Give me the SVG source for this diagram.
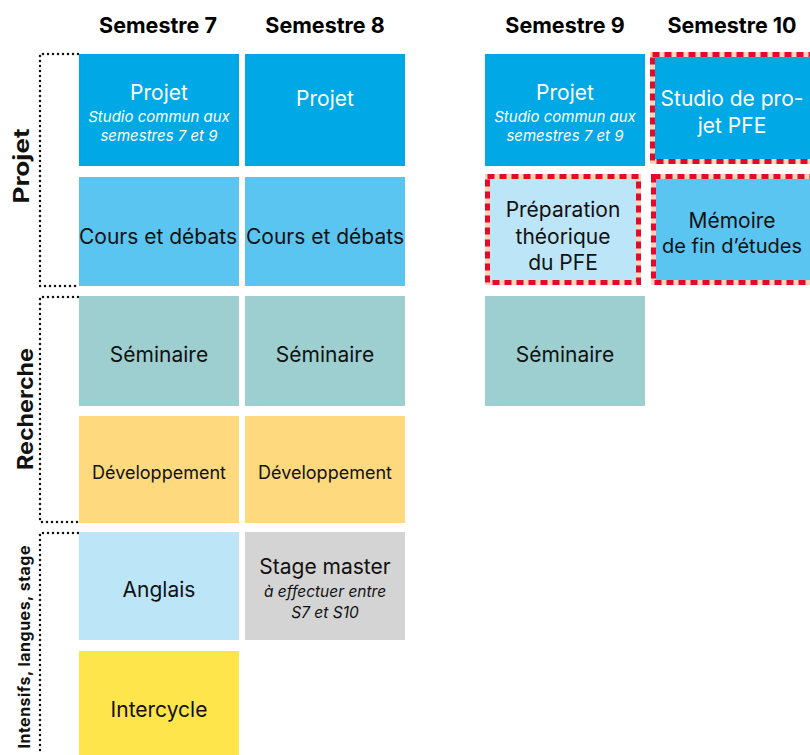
<svg xmlns="http://www.w3.org/2000/svg" width="810" height="755" viewBox="0 0 810 755">
<style>
text{font-family:Inter,"Liberation Sans",sans-serif;text-anchor:middle;dominant-baseline:central}
.h{font-weight:700;font-size:21.5px;fill:#000}
.side{font-weight:700;font-size:21px;fill:#111}
.t{font-size:21px;fill:#111}
.w{font-size:21px;fill:#fff}
.iw{font-size:15px;fill:#fff;font-style:italic}
.ib{font-size:15.5px;fill:#111;font-style:italic}
.br{fill:none;stroke:#111;stroke-width:2.5;stroke-dasharray:0 5;stroke-linecap:round}
.p{fill:#00a8e6}.c{fill:#5bc5f2}.s{fill:#9dcfd0}.d{fill:#ffd97d}.a{fill:#bde5f8}.y{fill:#ffe54c}.g{fill:#d4d4d4}
.dash1{fill:none;stroke:#fbd6bd;stroke-width:5}
.dash2{fill:none;stroke:#e30a2d;stroke-width:5;stroke-dasharray:7 5}
</style>
<g id="headers">
<text class="h" x="158" y="25">Semestre 7</text>
<text class="h" x="325" y="25">Semestre 8</text>
<text class="h" x="565" y="25">Semestre 9</text>
<text class="h" x="732" y="25">Semestre 10</text>
</g>
<g id="brackets">
<path class="br" d="M78 54 H40 V286 H78"/>
<path class="br" d="M78 297 H40 V522 H78"/>
<path class="br" d="M78 533 H40 V755"/>
<text class="side" transform="translate(21 166) rotate(-90)" textLength="75" lengthAdjust="spacingAndGlyphs">Projet</text>
<text class="side" transform="translate(25 409) rotate(-90)" textLength="122" lengthAdjust="spacingAndGlyphs">Recherche</text>
<text class="side" transform="translate(24 647) rotate(-90)" style="font-size:16px" textLength="203" lengthAdjust="spacing">Intensifs, langues, stage</text>
</g>
<g id="s7-projet"><rect class="p" x="79" y="54" width="160" height="112"/>
<text class="w" x="159" y="92">Projet</text>
<text class="iw" x="159" y="116">Studio commun aux</text>
<text class="iw" x="159" y="135">semestres 7 et 9</text></g>
<g id="s8-projet"><rect class="p" x="245" y="54" width="160" height="112"/>
<text class="w" x="325" y="98">Projet</text></g>
<g id="s9-projet"><rect class="p" x="485" y="54" width="160" height="112"/>
<text class="w" x="565" y="92">Projet</text>
<text class="iw" x="565" y="116">Studio commun aux</text>
<text class="iw" x="565" y="135">semestres 7 et 9</text></g>
<g id="s10-studio"><rect class="p" x="652.5" y="54.5" width="162" height="107"/>
<rect class="dash1" x="652.5" y="54.5" width="162" height="107"/><rect class="dash2" x="652.5" y="54.5" width="162" height="107"/>
<text class="w" x="732" y="98">Studio de pro-</text>
<text class="w" x="732" y="125">jet PFE</text></g>
<g id="s7-cours"><rect class="c" x="79" y="177" width="160" height="109"/>
<text class="t" x="158" y="236">Cours et débats</text></g>
<g id="s8-cours"><rect class="c" x="245" y="177" width="160" height="109"/>
<text class="t" x="325" y="236">Cours et débats</text></g>
<g id="s9-prep"><rect class="a" x="487.5" y="176.5" width="151" height="106"/>
<rect class="dash1" x="487.5" y="176.5" width="151" height="106"/><rect class="dash2" x="487.5" y="176.5" width="151" height="106"/>
<text class="t" x="563" y="209">Préparation</text>
<text class="t" x="563" y="236">théorique</text>
<text class="t" x="563" y="262">du PFE</text></g>
<g id="s10-memoire"><rect class="c" x="653.5" y="176.5" width="161" height="106"/>
<rect class="dash1" x="653.5" y="176.5" width="161" height="106"/><rect class="dash2" x="653.5" y="176.5" width="161" height="106"/>
<text class="t" x="732" y="220">Mémoire</text>
<text class="t" x="732" y="246" style="font-size:20px">de fin d’études</text></g>
<g id="s7-seminaire"><rect class="s" x="79" y="296" width="160" height="110"/>
<text class="t" x="159" y="354">Séminaire</text></g>
<g id="s8-seminaire"><rect class="s" x="245" y="296" width="160" height="110"/>
<text class="t" x="325" y="354">Séminaire</text></g>
<g id="s9-seminaire"><rect class="s" x="485" y="296" width="160" height="110"/>
<text class="t" x="565" y="354">Séminaire</text></g>
<g id="s7-dev"><rect class="d" x="79" y="416" width="160" height="107"/>
<text class="t" x="159" y="472" style="font-size:18px">Développement</text></g>
<g id="s8-dev"><rect class="d" x="245" y="416" width="160" height="107"/>
<text class="t" x="325" y="472" style="font-size:18px">Développement</text></g>
<g id="s7-anglais"><rect class="a" x="79" y="532" width="160" height="108"/>
<text class="t" x="159" y="589">Anglais</text></g>
<g id="s8-stage"><rect class="g" x="245" y="532" width="160" height="108"/>
<text class="t" x="325" y="566">Stage master</text>
<text class="ib" x="325" y="591">à effectuer entre</text>
<text class="ib" x="325" y="612">S7 et S10</text></g>
<g id="s7-intercycle"><rect class="y" x="79" y="651" width="160" height="104"/>
<text class="t" x="159" y="709">Intercycle</text></g>
<g id="connectors"/>
</svg>
